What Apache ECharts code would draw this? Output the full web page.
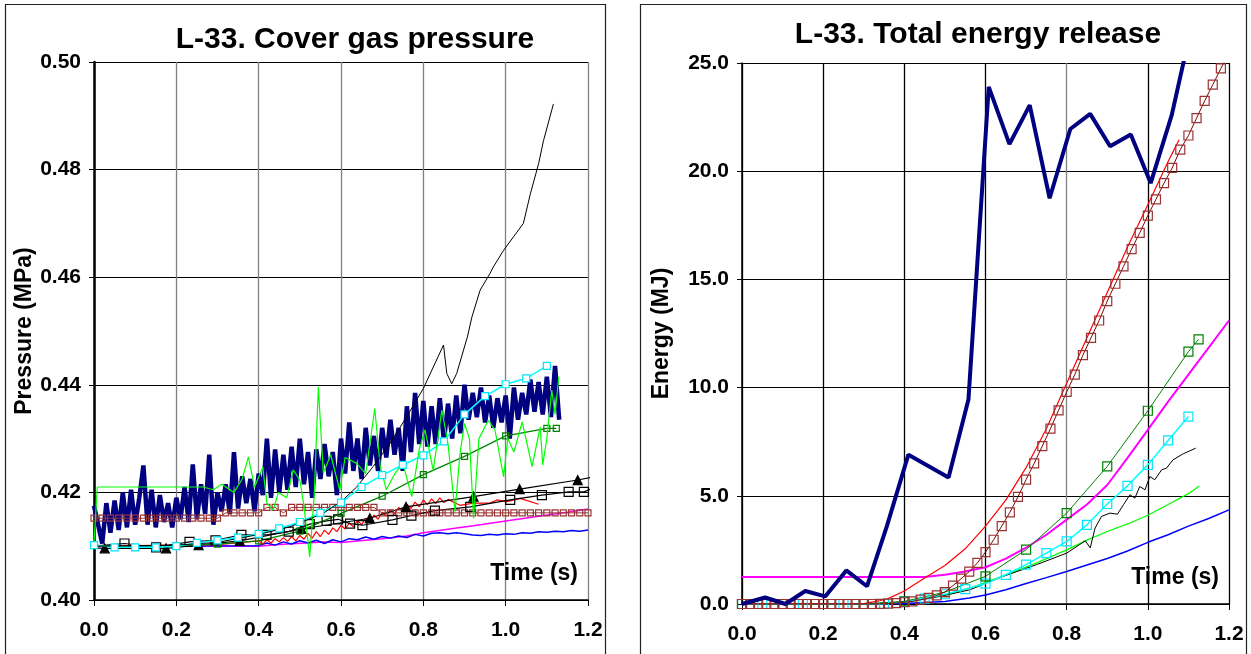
<!DOCTYPE html>
<html lang="en">
<head>
<meta charset="UTF-8">
<title>L-33</title>
<style>
html, body { margin: 0; padding: 0; background: #fff; }
#main { width: 1251px; height: 654px; }
</style>
</head>
<body>
<div id="main"></div>
<script src="https://cdn.jsdelivr.net/npm/echarts@6/dist/echarts.min.js"></script>
<script>
// regular sampling times
function steps(n, dt) {
  let out = [];
  for (let i = 0; i < n; i++) out.push(+(i * dt).toFixed(3));
  return out;
}
function zip(xs, ys) {
  return ys.map((y, i) => [xs[i], y]);
}

// ---------- cover gas pressure, MPa ----------
// experiment, every 10 ms
const pNavyV = [
  0.4175, 0.4140, 0.4105, 0.4180, 0.4125, 0.4185, 0.4130, 0.4200, 0.4135, 0.4205,
  0.4140, 0.4190, 0.4250, 0.4140, 0.4205, 0.4135, 0.4195, 0.4145, 0.4180, 0.4135,
  0.4190, 0.4150, 0.4210, 0.4145, 0.4252, 0.4150, 0.4215, 0.4160, 0.4270, 0.4140,
  0.4200, 0.4165, 0.4215, 0.4160, 0.4275, 0.4170, 0.4230, 0.4180, 0.4225, 0.4165,
  0.4235, 0.4195, 0.4300, 0.4190, 0.4280, 0.4200, 0.4270, 0.4205, 0.4285, 0.4210,
  0.4300, 0.4215, 0.4275, 0.4190, 0.4280, 0.4225, 0.4290, 0.4230, 0.4275, 0.4195,
  0.4300, 0.4235, 0.4330, 0.4240, 0.4300, 0.4225, 0.4320, 0.4250, 0.4305, 0.4240,
  0.4320, 0.4265, 0.4335, 0.4270, 0.4320, 0.4240, 0.4360, 0.4275, 0.4385, 0.4290,
  0.4370, 0.4285, 0.4360, 0.4290, 0.4375, 0.4295, 0.4365, 0.4300, 0.4380, 0.4310,
  0.4400, 0.4335, 0.4385, 0.4340, 0.4395, 0.4330, 0.4380, 0.4320, 0.4375, 0.4330,
  0.4380, 0.4300, 0.4395, 0.4335, 0.4385, 0.4345, 0.4410, 0.4350, 0.4405, 0.4345,
  0.4415, 0.4340, 0.4435, 0.4335
];
const pNavyT = steps(pNavyV.length, 0.01);

const pLimeT = [0, 0.008, 0.265, 0.29, 0.31, 0.34, 0.36, 0.375, 0.39, 0.41, 0.42, 0.435, 0.448, 0.468, 0.484,
  0.5, 0.51, 0.524, 0.535, 0.545, 0.557, 0.575, 0.597, 0.61, 0.638, 0.66, 0.682, 0.695, 0.71, 0.731,
  0.75, 0.772, 0.79, 0.804, 0.824, 0.845, 0.86, 0.877, 0.889, 0.9, 0.912, 0.922, 0.935, 0.958, 0.974,
  0.995, 1.005, 1.02, 1.04, 1.052, 1.064, 1.084, 1.09, 1.1, 1.112, 1.12, 1.129];
const pLimeV = [0.4106, 0.4210, 0.4210, 0.4205, 0.4215, 0.4200, 0.4225, 0.4266, 0.4210, 0.4247, 0.4180, 0.4167, 0.4200, 0.4190, 0.4242,
  0.4223, 0.4175, 0.4080, 0.4195, 0.4396, 0.4236, 0.4270, 0.4204, 0.4265, 0.4254, 0.4235, 0.4356, 0.4250, 0.4205, 0.4235,
  0.4255, 0.4192, 0.4280, 0.4316, 0.4241, 0.4353, 0.4290, 0.4164, 0.4272, 0.4328, 0.4300, 0.4152, 0.4300, 0.4334, 0.4316,
  0.4229, 0.4300, 0.4275, 0.4331, 0.4290, 0.4248, 0.4322, 0.4251, 0.4300, 0.4390, 0.4345, 0.4415];

const pBlackT = [0, 0.2, 0.3, 0.395, 0.476, 0.557, 0.605, 0.638, 0.678, 0.719, 0.759, 0.8, 0.849, 0.857, 0.869,
  0.881, 0.907, 0.918, 0.938, 0.962, 0.97, 0.995, 1.019, 1.043, 1.06, 1.08, 1.092, 1.116];
const pBlackV = [0.4100, 0.4102, 0.4107, 0.4121, 0.4136, 0.4161, 0.4186, 0.4210, 0.4248, 0.4291, 0.4340, 0.4393, 0.4474, 0.4421, 0.4402,
  0.4421, 0.4489, 0.4526, 0.4576, 0.4607, 0.4619, 0.4650, 0.4675, 0.4700, 0.4755, 0.4811, 0.4854, 0.4922];

const pCyanV = [0.4102, 0.4098, 0.4098, 0.4098, 0.4100, 0.4106, 0.4111, 0.4116, 0.4123, 0.4133, 0.4145, 0.4162,
  0.4181, 0.4210, 0.4232, 0.4251, 0.4269, 0.4295, 0.4345, 0.4379, 0.4401, 0.4412, 0.4435];
const pCyanT = steps(pCyanV.length, 0.05);

const pGreenT = [0, 0.1, 0.2, 0.3, 0.4, 0.5, 0.6, 0.7, 0.8, 0.9, 1.0, 1.1, 1.123];
const pGreenV = [0.4102, 0.4098, 0.4100, 0.4104, 0.4110, 0.4128, 0.4161, 0.4193, 0.4233, 0.4267, 0.4305, 0.4319, 0.4319];

const pTriT = [0, 0.026, 0.175, 0.254, 0.354, 0.504, 0.67, 0.758, 0.922, 1.034, 1.175, 1.21];
const pTriV = [0.4097, 0.4096, 0.4096, 0.4102, 0.4110, 0.4132, 0.4152, 0.4173, 0.4192, 0.4206, 0.4223, 0.4228];

const pSqT = [0, 0.074, 0.151, 0.232, 0.295, 0.358, 0.419, 0.473, 0.524, 0.565, 0.593, 0.622, 0.652, 0.725,
  0.771, 0.828, 0.914, 1.011, 1.088, 1.153, 1.19, 1.21];
const pSqV = [0.4100, 0.4105, 0.4098, 0.4108, 0.4111, 0.4121, 0.4121, 0.4127, 0.4141, 0.4147, 0.4150, 0.4142, 0.4139, 0.4149,
  0.4157, 0.4166, 0.4173, 0.4186, 0.4195, 0.4201, 0.4201, 0.4207];

// every 20 ms
const pBrownV = [
  0.4152, 0.4152, 0.4152, 0.4152, 0.4152, 0.4152, 0.4152, 0.4152, 0.4152, 0.4152,
  0.4152, 0.4152, 0.4152, 0.4152, 0.4152, 0.4152, 0.4162, 0.4162, 0.4162, 0.4162,
  0.4162, 0.4172, 0.4172, 0.4162, 0.4172, 0.4172, 0.4172, 0.4172, 0.4172, 0.4172,
  0.4172, 0.4172, 0.4172, 0.4172, 0.4172, 0.4162, 0.4162, 0.4162, 0.4162, 0.4162,
  0.4162, 0.4162, 0.4162, 0.4162, 0.4162, 0.4162, 0.4162, 0.4162, 0.4162, 0.4162,
  0.4162, 0.4162, 0.4162, 0.4162, 0.4162, 0.4162, 0.4162, 0.4162, 0.4162, 0.4162,
  0.4162
];
const pBrownT = steps(pBrownV.length, 0.02);

const pRedT = [0, 0.3, 0.40, 0.41, 0.42, 0.43, 0.44, 0.45, 0.46, 0.47, 0.48, 0.49, 0.50, 0.51, 0.52, 0.53, 0.54,
  0.55, 0.56, 0.57, 0.58, 0.59, 0.60, 0.61, 0.62, 0.63, 0.64, 0.65, 0.66, 0.67, 0.68, 0.69, 0.70, 0.71,
  0.72, 0.73, 0.74, 0.75, 0.76, 0.77, 0.78, 0.79, 0.80, 0.81, 0.82, 0.83, 0.84, 0.85, 0.86,
  0.889, 0.922, 0.962, 0.979, 1.003, 1.035, 1.08];
const pRedV = [0.4100, 0.4103, 0.4110, 0.4104, 0.4112, 0.4106, 0.4114, 0.4108, 0.4116, 0.4109, 0.4118, 0.4110, 0.4120, 0.4113, 0.4124, 0.4115, 0.4127,
  0.4118, 0.4130, 0.4122, 0.4134, 0.4127, 0.4139, 0.4132, 0.4143, 0.4136, 0.4148, 0.4140, 0.4152, 0.4145, 0.4158, 0.4150, 0.4163, 0.4156,
  0.4168, 0.4160, 0.4172, 0.4165, 0.4178, 0.4170, 0.4182, 0.4173, 0.4186, 0.4177, 0.4188, 0.4179, 0.4190, 0.4181, 0.4187,
  0.4176, 0.4180, 0.4180, 0.4186, 0.4183, 0.4189, 0.4178];

const pBlueT = [0, 0.4, 0.42, 0.44, 0.46, 0.48, 0.5, 0.52, 0.54, 0.56, 0.58, 0.6, 0.62, 0.64, 0.66, 0.68, 0.7,
  0.72, 0.74, 0.76, 0.78, 0.8, 0.82, 0.84, 0.86, 0.88, 0.9, 0.92, 0.94, 0.96, 0.98, 1.0, 1.02, 1.04,
  1.06, 1.08, 1.1, 1.12, 1.14, 1.16, 1.18, 1.2];
const pBlueV = [0.4100, 0.4101, 0.4106, 0.4102, 0.4108, 0.4104, 0.4110, 0.4106, 0.4111, 0.4105, 0.4112, 0.4108, 0.4114, 0.4112, 0.4117, 0.4113, 0.4118,
  0.4115, 0.4119, 0.4116, 0.4122, 0.4119, 0.4124, 0.4125, 0.4123, 0.4125, 0.4123, 0.4121, 0.4120, 0.4122, 0.4121, 0.4123, 0.4122, 0.4125,
  0.4124, 0.4127, 0.4126, 0.4128, 0.4127, 0.4129, 0.4128, 0.4130];

const pMagT = [0, 0.4, 0.45, 0.557, 0.6, 0.7, 0.76, 0.8, 0.881, 0.922, 1.0, 1.084, 1.15, 1.2];
const pMagV = [0.4100, 0.4100, 0.4103, 0.4108, 0.4107, 0.4114, 0.4119, 0.4125, 0.4134, 0.4138, 0.4147, 0.4156, 0.4163, 0.4169];

// ---------- total energy release, MJ ----------
const eNavyT = [0, 0.057, 0.107, 0.156, 0.205, 0.257, 0.308, 0.357, 0.41, 0.509, 0.558, 0.608, 0.659, 0.709,
  0.758, 0.809, 0.858, 0.907, 0.958, 1.007, 1.059, 1.109];
const eNavyV = [0, 0.3, 0.0, 0.6, 0.35, 1.55, 0.82, 3.6, 6.9, 5.85, 9.45, 23.9, 21.25, 23.05,
  18.75, 21.95, 22.65, 21.15, 21.7, 19.45, 22.6, 26.8];

const eRedT = [0, 0.3, 0.33, 0.36, 0.4, 0.45, 0.5, 0.55, 0.6, 0.65, 0.7, 0.75, 0.8, 0.85, 0.9, 0.95, 1.0, 1.05, 1.077];
const eRedV = [0, 0.02, 0.12, 0.25, 0.6, 1.2, 1.78, 2.55, 3.6, 4.8, 6.3, 8.1, 10.2, 12.3, 14.4, 16.5, 18.45, 20.45, 21.45];

// every 20 ms, last point is the line running past the frame
const eBrownV = [
  0, 0, 0, 0, 0, 0, 0, 0, 0, 0,
  0, 0, 0, 0, 0, 0, 0, 0.01, 0.02, 0.04,
  0.08, 0.12, 0.2, 0.28, 0.4, 0.55, 0.85, 1.17, 1.5, 1.9,
  2.4, 2.97, 3.6, 4.23, 4.95, 5.75, 6.5, 7.3, 8.1, 8.95,
  9.8, 10.6, 11.5, 12.3, 13.1, 14.0, 14.8, 15.6, 16.4, 17.15,
  17.95, 18.7, 19.45, 20.15, 21.0, 21.65, 22.45, 23.25, 24.0, 24.75,
  25.5
];
const eBrownT = steps(eBrownV.length, 0.02);

const eMagT = [0, 0.45, 0.5, 0.55, 0.6, 0.65, 0.7, 0.75, 0.8, 0.85, 0.9, 0.95, 1.0, 1.05, 1.1, 1.15, 1.2];
const eMagV = [1.25, 1.25, 1.35, 1.5, 1.7, 2.1, 2.6, 3.2, 3.9, 4.6, 5.5, 6.75, 8.05, 9.35, 10.6, 11.85, 13.1];

const eGreenT = [0, 0.1, 0.2, 0.3, 0.4, 0.5, 0.6, 0.7, 0.8, 0.9, 1.0, 1.1, 1.125];
const eGreenV = [0, 0, 0, 0, 0.12, 0.55, 1.28, 2.51, 4.2, 6.36, 8.93, 11.66, 12.23];

const eCyanV = [0, 0, 0, 0, 0, 0, 0, 0, 0.1, 0.25, 0.45, 0.69, 0.94, 1.35, 1.82, 2.35, 2.89, 3.66, 4.62, 5.46, 6.43, 7.56, 8.66];
const eCyanT = steps(eCyanV.length, 0.05);

const eBlackT = [0, 0.3, 0.4, 0.45, 0.5, 0.562, 0.644, 0.726, 0.8, 0.846, 0.858, 0.87, 0.886, 0.907, 0.925,
  0.94, 0.956, 0.968, 0.98, 0.993, 1.005, 1.017, 1.034, 1.046, 1.062, 1.087, 1.118];
const eBlackV = [0, 0, 0.1, 0.22, 0.4, 0.66, 1.28, 1.82, 2.35, 2.92, 2.59, 3.51, 4.05, 4.2, 4.15,
  4.59, 5.05, 4.89, 5.43, 5.28, 5.89, 5.74, 6.2, 6.28, 6.66, 6.94, 7.2];

const eLimeT = [0, 0.3, 0.4, 0.5, 0.562, 0.644, 0.726, 0.8, 0.85, 0.9, 0.95, 1.0, 1.05, 1.1, 1.127];
const eLimeV = [0, 0, 0.08, 0.4, 0.74, 1.3, 1.9, 2.5, 2.95, 3.35, 3.7, 4.1, 4.6, 5.1, 5.45];

const eBlueT = [0, 0.3, 0.4, 0.5, 0.56, 0.6, 0.65, 0.7, 0.75, 0.8, 0.85, 0.9, 0.95, 1.0, 1.05, 1.1, 1.15, 1.2];
const eBlueV = [0, 0, 0.02, 0.12, 0.28, 0.42, 0.66, 0.95, 1.22, 1.5, 1.8, 2.1, 2.45, 2.85, 3.2, 3.6, 3.95, 4.35];

const FONT = '"Liberation Sans", Arial, sans-serif';

function line(gi, xs, ys, color, width, opts) {
  opts = opts || {};
  let s = {
    type: 'line',
    xAxisIndex: gi,
    yAxisIndex: gi,
    data: zip(xs, ys),
    lineStyle: { color: color, width: width },
    itemStyle: { color: color },
    symbol: 'none',
    animation: false,
    silent: true,
    z: opts.z || 2
  };
  if (opts.symbol) {
    let n = ys.length;
    let sym = opts.symbol;
    let bare = opts.bareEnds || [];
    s.symbol = function (v, p) {
      if (bare.indexOf(p.dataIndex === 0 ? 'first' : (p.dataIndex === n - 1 ? 'last' : '')) >= 0) return 'none';
      return sym;
    };
    s.showAllSymbol = true;
    s.symbolSize = opts.size;
    s.itemStyle = {
      color: opts.fill || 'transparent',
      borderColor: opts.border || color,
      borderWidth: opts.borderWidth || 1.2
    };
  }
  return s;
}

function xAxis(gi, gridColors) {
  return {
    gridIndex: gi, type: 'value', min: 0, max: 1.2, interval: 0.2,
    name: 'Time (s)', nameLocation: 'end', nameGap: -10,
    nameTextStyle: { fontFamily: FONT, fontWeight: 'bold', fontSize: 23, color: '#000',
      align: 'right', verticalAlign: 'bottom', padding: [0, 0, 15, 0] },
    axisLine: { show: true, onZero: false, lineStyle: { color: '#000', width: 1.5 } },
    axisTick: { show: true, length: 6, lineStyle: { color: '#000' } },
    axisLabel: { margin: 20, fontFamily: FONT, fontWeight: 'bold', fontSize: 21, color: '#000',
      formatter: v => v.toFixed(1) },
    splitLine: { show: true, lineStyle: { color: gridColors, width: 1.3 } }
  };
}

let myChart = echarts.init(document.getElementById('main'));
let option = {
  backgroundColor: '#fff',
  title: [
    { text: 'L-33. Cover gas pressure', left: 350, top: 20, textAlign: 'center',
      textStyle: { fontFamily: FONT, fontWeight: 'bold', fontSize: 30, color: '#000' } },
    { text: 'L-33. Total energy release', left: 973, top: 15, textAlign: 'center',
      textStyle: { fontFamily: FONT, fontWeight: 'bold', fontSize: 30, color: '#000' } }
  ],
  graphic: [
    { type: 'rect', shape: { x: 5.5, y: 4.5, width: 600, height: 660 },
      style: { fill: 'none', stroke: '#222', lineWidth: 1.2 }, silent: true },
    { type: 'rect', shape: { x: 640.5, y: 4.5, width: 606, height: 660 },
      style: { fill: 'none', stroke: '#222', lineWidth: 1.2 }, silent: true }
  ],
  grid: [
    { left: 94, top: 62, width: 494, height: 538 },
    { left: 742, top: 63, width: 487, height: 541 }
  ],
  xAxis: [
    xAxis(0, '#808080'),
    xAxis(1, ['#000', '#000', '#000', '#000', '#808080', '#000', '#000'])
  ],
  yAxis: [
    {
      gridIndex: 0, type: 'value', min: 0.40, max: 0.50, interval: 0.02,
      name: 'Pressure (MPa)', nameLocation: 'middle', nameGap: 55,
      nameTextStyle: { fontFamily: FONT, fontWeight: 'bold', fontSize: 23, color: '#000' },
      axisLine: { show: true, lineStyle: { color: '#000', width: 2.5 } },
      axisTick: { show: true, length: 5, lineStyle: { color: '#000' } },
      axisLabel: { margin: 13, fontFamily: FONT, fontWeight: 'bold', fontSize: 21, color: '#000',
        formatter: v => v.toFixed(2) },
      splitLine: { show: true, lineStyle: { color: '#000', width: 1.2 } }
    },
    {
      gridIndex: 1, type: 'value', min: 0, max: 25, interval: 5,
      name: 'Energy (MJ)', nameLocation: 'middle', nameGap: 69,
      nameTextStyle: { fontFamily: FONT, fontWeight: 'bold', fontSize: 23, color: '#000' },
      axisLine: { show: true, lineStyle: { color: '#000', width: 1.5 } },
      axisTick: { show: true, length: 5, lineStyle: { color: '#000' } },
      axisLabel: { margin: 13, fontFamily: FONT, fontWeight: 'bold', fontSize: 21, color: '#000',
        formatter: v => v.toFixed(1) },
      splitLine: { show: true, lineStyle: { color: '#000', width: 1.2 } }
    }
  ],
  series: [
    // pressure
    line(0, pNavyT, pNavyV, '#000080', 4.5, { z: 2 }),
    line(0, pMagT, pMagV, '#ff00ff', 1.5, { z: 3 }),
    line(0, pBlueT, pBlueV, '#0000ff', 1.5, { z: 3 }),
    line(0, pRedT, pRedV, '#ff0000', 1.2, { z: 3 }),
    line(0, pBrownT, pBrownV, '#993333', 1, { z: 4, symbol: 'rect', size: 6, border: '#993333' }),
    line(0, pSqT, pSqV, '#000', 1.2, { z: 4, symbol: 'rect', size: 9, fill: 'transparent', bareEnds: ['first', 'last'] }),
    line(0, pTriT, pTriV, '#000', 1.2, { z: 4, symbol: 'triangle', size: 9, fill: '#000', bareEnds: ['first', 'last'] }),
    line(0, pGreenT, pGreenV, '#008000', 1.2, { z: 4, symbol: 'rect', size: 6, border: '#008000' }),
    line(0, pCyanT, pCyanV, '#00ffff', 1.5, { z: 5, symbol: 'rect', size: 7, fill: '#fff', border: '#00e5ff' }),
    line(0, pLimeT, pLimeV, '#00ff00', 1.2, { z: 5 }),
    line(0, pBlackT, pBlackV, '#000', 1, { z: 5 }),
    // energy
    line(1, eBlueT, eBlueV, '#0000ff', 1.5, { z: 3 }),
    line(1, eLimeT, eLimeV, '#00ff00', 1.2, { z: 3 }),
    line(1, eBlackT, eBlackV, '#000', 1, { z: 3 }),
    line(1, eMagT, eMagV, '#ff00ff', 2, { z: 3 }),
    line(1, eCyanT, eCyanV, '#00ffff', 1.5, { z: 4, symbol: 'rect', size: 9, border: '#00e5ff' }),
    line(1, eGreenT, eGreenV, '#008000', 1, { z: 4, symbol: 'rect', size: 9, border: '#008000' }),
    line(1, eRedT, eRedV, '#ff0000', 1.2, { z: 4 }),
    line(1, eBrownT, eBrownV, '#800000', 1, { z: 5, symbol: 'rect', size: 9, border: '#993333', bareEnds: ['last'] }),
    line(1, eNavyT, eNavyV, '#000080', 4, { z: 6 })
  ]
};
myChart.setOption(option);
</script>
</body>
</html>
